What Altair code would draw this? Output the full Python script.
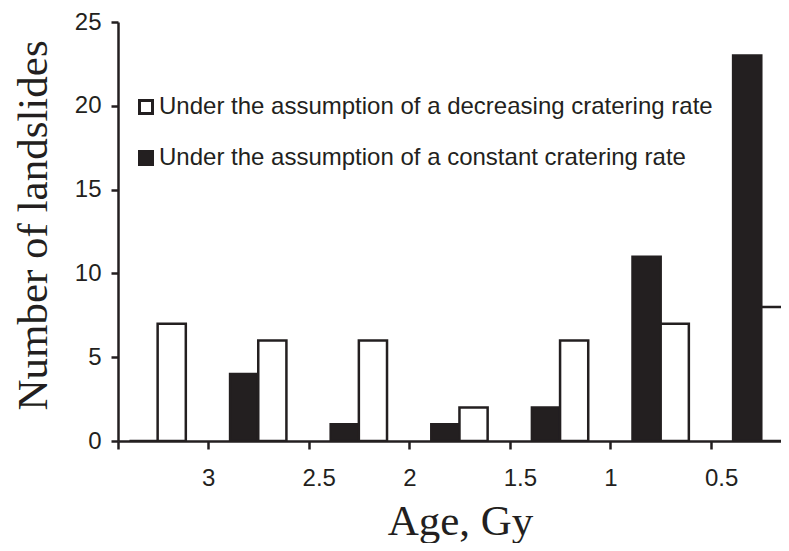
import altair as alt
import pandas as pd

# ---- data ----
bin_centers = [3.25, 2.75, 2.25, 1.75, 1.25, 0.75, 0.25]          # Age, Gy (bin centres)
decreasing_rate = [7, 6, 6, 2, 6, 7, 8]                             # white bars
constant_rate = [0, 4, 1, 1, 2, 11, 23]                             # black bars
series_names = [
    "Under the assumption of a decreasing cratering rate",
    "Under the assumption of a constant cratering rate",
]
x_tick_values = [3, 2.5, 2, 1.5, 1, 0.5]
y_tick_values = [0, 5, 10, 15, 20, 25]
x_domain = [0.152, 3.447]
y_domain = [0, 25]

rows = []
for c, d, k in zip(bin_centers, decreasing_rate, constant_rate):
    rows.append({"center": c, "series": series_names[1], "count": k})
    rows.append({"center": c, "series": series_names[0], "count": d})
df = pd.DataFrame(rows)

INK = "#231f20"
BAR_W = 0.14
SANS = "Liberation Sans"
SERIF = "Liberation Serif"

const_name = series_names[1]

bars = (
    alt.Chart(df)
    .transform_calculate(
        x0=f"datum.series == '{const_name}' ? datum.center + {BAR_W} : datum.center",
        x1=f"datum.series == '{const_name}' ? datum.center : datum.center - {BAR_W}",
    )
    .mark_bar(stroke=INK, strokeWidth=2.5, clip=True)
    .encode(
        x=alt.X(
            "x0:Q",
            scale=alt.Scale(domain=x_domain, reverse=True, nice=False, zero=False),
            axis=alt.Axis(
                values=[x_domain[1]] + x_tick_values,
                format="~g",
                labelExpr="datum.value > 3.2 ? '' : datum.label",
                title="Age, Gy",
                titleFont=SERIF,
                titleFontSize=43,
                titleFontWeight="normal",
                titleColor=INK,
                titleX=342,
                titleY=93,
                titleAlign="center",
                titleBaseline="alphabetic",
                labelFont=SANS,
                labelFontSize=24,
                labelColor=INK,
                labelAlign="left",
                labelOffset=-6.5,
                labelPadding=17,
                tickSize=8,
                tickWidth=2.5,
                tickColor=INK,
                domainColor=INK,
                domainWidth=2.5,
                grid=False,
            ),
        ),
        x2="x1:Q",
        y=alt.Y(
            "count:Q",
            scale=alt.Scale(domain=y_domain, nice=False),
            axis=alt.Axis(
                values=y_tick_values,
                title="Number of landslides",
                titleFont=SERIF,
                titleFontSize=43,
                titleFontWeight="normal",
                titleColor=INK,
                titleX=-72,
                titleY=203,
                titleAngle=270,
                titleAlign="center",
                titleBaseline="alphabetic",
                labelFont=SANS,
                labelFontSize=24,
                labelColor=INK,
                labelPadding=10,
                tickSize=7,
                tickWidth=2.5,
                tickColor=INK,
                domainColor=INK,
                domainWidth=2.5,
                grid=False,
            ),
        ),
        y2=alt.datum(0),
        fill=alt.Fill(
            "series:N",
            scale=alt.Scale(domain=series_names, range=["white", INK]),
            legend=alt.Legend(
                title=None,
                orient="none",
                legendX=16,
                legendY=73,
                labelFont=SANS,
                labelFontSize=24,
                labelColor=INK,
                labelLimit=0,
                labelOffset=1,
                rowPadding=25,
                symbolType="square",
                symbolSize=169,
                symbolStrokeColor=INK,
                symbolStrokeWidth=3,
                symbolOpacity=1,
            ),
        ),
    )
)

chart = (
    bars.properties(
        width=663,
        height=419,
        autosize=alt.AutoSizeParams(type="none"),
        padding={"left": 110, "top": 14, "right": 0, "bottom": 102},
        background="white",
    )
    .configure_view(stroke=None)
)

chart.save("out.html", embed_options={"renderer": "svg", "actions": False})
